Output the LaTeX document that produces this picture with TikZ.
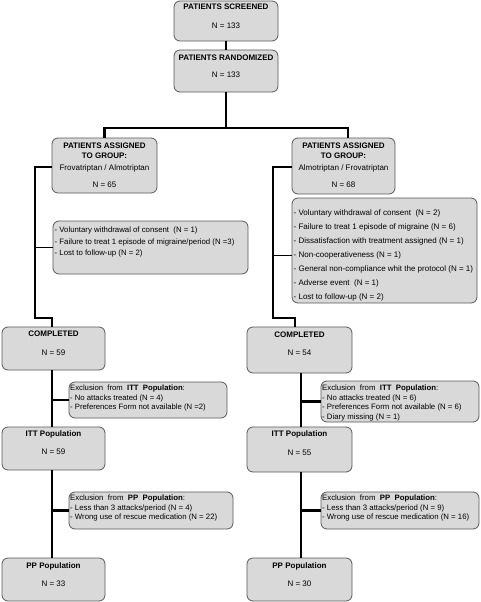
\documentclass[tikz,border=0pt]{standalone}
\usepackage{fontspec}
\setmainfont{Liberation Sans}
\tikzset{
  box/.style={draw=black!65, line width=0.8pt, fill=black!15, rounded corners=6pt, inner sep=0pt},
  ttl/.style={font=\fontsize{8}{9}\selectfont\bfseries, anchor=mid, inner sep=0pt, align=center},
  num/.style={font=\fontsize{8}{9}\selectfont, anchor=mid, inner sep=0pt},
  lst/.style={anchor=north west, inner sep=0pt, align=left},
  conn/.style={line width=2.4pt},
  thinc/.style={line width=1pt}
}
\begin{document}
\begin{tikzpicture}[x=1pt,y=-1pt]
\useasboundingbox (0,0) rectangle (480,602);
% boxes
\node[box, minimum width=104pt, minimum height=40pt] (scr) at (226,21) {};
\node[box, minimum width=104pt, minimum height=42pt] (rand) at (226,71) {};
\node[box, minimum width=105pt, minimum height=55pt] (grpL) at (104.5,165.5) {};
\node[box, minimum width=103pt, minimum height=56pt] (grpR) at (343.5,166) {};
\node[box, minimum width=195pt, minimum height=53pt] (wdL) at (150.5,247.5) {};
\node[box, minimum width=185pt, minimum height=105pt] (wdR) at (384.5,250.5) {};
\node[box, minimum width=103pt, minimum height=43pt] (compL) at (53.5,348.5) {};
\node[box, minimum width=105pt, minimum height=46pt] (compR) at (299.5,350) {};
\node[box, minimum width=158pt, minimum height=36pt] (itxL) at (148,400) {};
\node[box, minimum width=158pt, minimum height=41pt] (itxR) at (400,401.5) {};
\node[box, minimum width=103pt, minimum height=43pt] (ittL) at (53.5,448.5) {};
\node[box, minimum width=105pt, minimum height=45pt] (ittR) at (299.5,449.5) {};
\node[box, minimum width=164pt, minimum height=37pt] (ppxL) at (151,510.5) {};
\node[box, minimum width=158pt, minimum height=37pt] (ppxR) at (400,510.5) {};
\node[box, minimum width=103pt, minimum height=43pt] (ppL) at (53.5,579.5) {};
\node[box, minimum width=105pt, minimum height=43pt] (ppR) at (299.5,579.5) {};
% texts
\node[ttl] (scrT) at (226,7) {PATIENTS SCREENED};
\node[num] (scrN) at (226,26) {N = 133};
\node[ttl] (randT) at (226,58) {PATIENTS RANDOMIZED};
\node[num] (randN) at (226,75) {N = 133};
\node[ttl, font=\fontsize{8}{10}\selectfont\bfseries, anchor=north] (grpLT) at (104.5,143) {PATIENTS ASSIGNED\\TO GROUP:};
\node[num] (grpLS) at (104.5,168) {Frovatriptan / Almotriptan};
\node[num] (grpLN) at (104.5,185) {N = 65};
\node[ttl, font=\fontsize{8}{10}\selectfont\bfseries, anchor=north] (grpRT) at (343.5,143) {PATIENTS ASSIGNED\\TO GROUP:};
\node[num] (grpRS) at (343.5,168) {Almotriptan / Frovatriptan};
\node[num] (grpRN) at (343.5,185) {N = 68};
\node[lst, font=\fontsize{7.8}{11.5}\selectfont] (wdLT) at (54.5,227) {- Voluntary withdrawal of consent\ \ (N = 1)\\- Failure to treat 1 episode of migraine/period (N =3)\\- Lost to follow-up (N = 2)};
\node[lst, font=\fontsize{8}{14}\selectfont] (wdRT) at (293.5,209) {- Voluntary withdrawal of consent\ \ (N = 2)\\- Failure to treat 1 episode of migraine (N = 6)\\- Dissatisfaction with treatment assigned (N = 1)\\- Non-cooperativeness (N = 1)\\- General non-compliance whit the protocol (N = 1)\\- Adverse event\ \ (N = 1)\\- Lost to follow-up (N = 2)};
\node[ttl] (compLT) at (53.5,334) {COMPLETED};
\node[num] (compLN) at (53.5,353) {N = 59};
\node[ttl] (compRT) at (299.5,335) {COMPLETED};
\node[num] (compRN) at (299.5,353) {N = 54};
\node[lst, font=\fontsize{7.7}{9.5}\selectfont] (itxLT) at (70,385) {Exclusion\ \ from\ \ \textbf{ITT\ \ Population}:\\- No attacks treated (N = 4)\\- Preferences Form not available (N =2)};
\node[lst, font=\fontsize{7.8}{9.5}\selectfont] (itxRT) at (322,385) {Exclusion\ \ from\ \ \textbf{ITT\ \ Population}:\\- No attacks treated (N = 6)\\- Preferences Form not available (N = 6)\\- Diary missing (N = 1)};
\node[ttl] (ittLT) at (53.5,434) {ITT Population};
\node[num] (ittLN) at (53.5,452) {N = 59};
\node[ttl] (ittRT) at (299.5,434) {ITT Population};
\node[num] (ittRN) at (299.5,453) {N = 55};
\node[lst, font=\fontsize{7.8}{9.2}\selectfont] (ppxLT) at (70,495) {Exclusion\ \ from\ \ \textbf{PP\ \ Population}:\\- Less than 3 attacks/period (N = 4)\\- Wrong use of rescue medication (N = 22)};
\node[lst, font=\fontsize{7.8}{9.2}\selectfont] (ppxRT) at (322,495) {Exclusion\ \ from\ \ \textbf{PP\ \ Population}:\\- Less than 3 attacks/period (N = 9)\\- Wrong use of rescue medication (N = 16)};
\node[ttl] (ppLT) at (53.5,566) {PP Population};
\node[num] (ppLN) at (53.5,584) {N = 33};
\node[ttl] (ppRT) at (299.5,566) {PP Population};
\node[num] (ppRN) at (299.5,584) {N = 30};
% junction coordinates
\coordinate (j0) at (226,128);
\coordinate (vL) at (35,318);
\coordinate (vR) at (273,318);
\coordinate (wL) at (35,247.5);
\coordinate (wR) at (273,255);
\coordinate (iL) at (52,400);
\coordinate (iR) at (301,401.5);
\coordinate (pL) at (52,510.5);
\coordinate (pR) at (301,510.5);
% connectors
\draw[conn] (scr.south) -- (rand.north);
\draw[conn] (rand.south) -- (j0);
\draw[conn] (grpL.north) |- (j0) -| ([xshift=4.5pt]grpR.north);
\draw[conn] ([yshift=-1.5pt]grpL.west) -| (vL) -| ([xshift=-1.5pt]compL.north);
\draw[conn] ([yshift=-1pt]grpR.west) -| (vR) -| ([xshift=-4.5pt]compR.north);
\draw[thinc] (wL) -- (wdL.west);
\draw[thinc] (wR) -- (wR -| wdR.west);
\draw[conn] ([xshift=-1.5pt]compL.south) -- ([xshift=-1.5pt]ittL.north);
\draw[conn] ([xshift=1.5pt]compR.south) -- ([xshift=1.5pt]ittR.north);
\draw[conn] ([xshift=-1.5pt]ittL.south) -- ([xshift=-1.5pt]ppL.north);
\draw[conn] ([xshift=1.5pt]ittR.south) -- ([xshift=1.5pt]ppR.north);
\draw[conn] (iL) -- (itxL.west);
\draw[conn] (iR) -- (itxR.west);
\draw[conn] (pL) -- (ppxL.west);
\draw[conn] (pR) -- (ppxR.west);
\end{tikzpicture}
\end{document}
